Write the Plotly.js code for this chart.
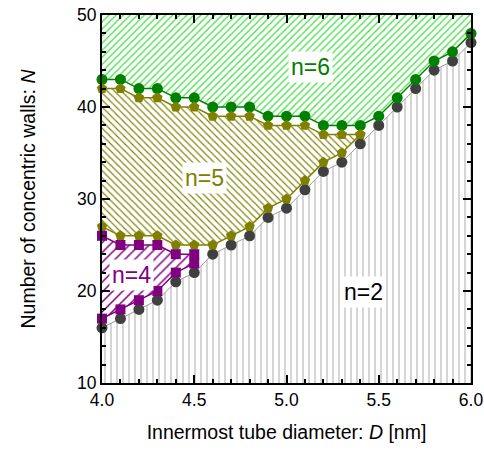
<!DOCTYPE html>
<html>
<head>
<meta charset="utf-8">
<script src="https://cdn.plot.ly/plotly-3.0.1.min.js"></script>
<style>html,body{margin:0;padding:0;background:#fff;}#chart{width:484px;height:450px;}</style>
</head>
<body>
<div id="chart"></div>
<script>
// Innermost tube diameter D [nm]
const D = [4.0,4.1,4.2,4.3,4.4,4.5,4.6,4.7,4.8,4.9,5.0,5.1,5.2,5.3,5.4,5.5,5.6,5.7,5.8,5.9,6.0];
// n=2 boundary (gray)
const nGray = [16,17,18,19,21,22,24,25,26,28,29,31,33,34,36,38,40,42,44,45,47];
// n=6 lower boundary (green)
const nGreen = [43,43,42,42,41,41,40,40,40,39,39,39,38,38,38,39,41,43,45,46,48];
// n=5 region (olive)
const D5 = [4.0,4.1,4.2,4.3,4.4,4.5,4.6,4.7,4.8,4.9,5.0,5.1,5.2,5.3,5.4];
const n5Top = [42,42,41,41,40,40,39,39,39,38,38,38,37,37,37];
const n5Bot = [27,26,26,26,25,25,25,26,27,29,30,32,34,35,37];
// n=4 region (purple)
const D4 = [4.0,4.1,4.2,4.3,4.4,4.5];
const n4Top = [26,25,25,25,24,24];
const n4Bot = [17,18,19,20,22,23];
// region labels
const labelText = ['n=6','n=5','n=4','n=2'];
const labelX = [5.13,4.555,4.16,5.415];
const labelY = [44.3,32.3,21.7,19.9];
const labelColor = ['#008000','#808000','#800080','#000000'];

const xRange = [4.0, 6.0];
const yRange = [10, 50];

const font = "Arial, 'Liberation Sans', Helvetica, sans-serif";

function poly(xa, ya, xb, yb) {
  return {x: xa.concat(xb.slice().reverse()), y: ya.concat(yb.slice().reverse())};
}

const greenPoly = poly(D, nGreen, D, D.map(() => yRange[1]));
const olivePoly = poly(D5, n5Top, D5, n5Bot);
const purplePoly = poly(D4, n4Top, D4, n4Bot);

const traces = [
  {x: D, y: nGray, type: 'scatter', mode: 'lines', line: {width: 0, color: 'rgba(0,0,0,0)'},
   fill: 'tozeroy', fillcolor: 'white',
   fillpattern: {shape: '|', fgcolor: '#c8c8c8', bgcolor: 'white', size: 6, solidity: 0.25},
   hoverinfo: 'skip', showlegend: false},
  {x: greenPoly.x, y: greenPoly.y, type: 'scatter', mode: 'lines', line: {width: 0, color: 'rgba(0,0,0,0)'},
   fill: 'toself', fillcolor: 'white',
   fillpattern: {shape: '/', fgcolor: '#33e033', bgcolor: 'white', size: 5, solidity: 0.22},
   hoverinfo: 'skip', showlegend: false},
  {x: olivePoly.x, y: olivePoly.y, type: 'scatter', mode: 'lines', line: {width: 0, color: 'rgba(0,0,0,0)'},
   fill: 'toself', fillcolor: 'white',
   fillpattern: {shape: '\\', fgcolor: '#808000', bgcolor: 'white', size: 5, solidity: 0.22},
   hoverinfo: 'skip', showlegend: false},
  {x: purplePoly.x, y: purplePoly.y, type: 'scatter', mode: 'lines', line: {width: 0, color: 'rgba(0,0,0,0)'},
   fill: 'toself', fillcolor: 'white',
   fillpattern: {shape: '/', fgcolor: '#800080', bgcolor: 'white', size: 7, solidity: 0.22},
   hoverinfo: 'skip', showlegend: false},
  {x: D, y: nGray, type: 'scatter', mode: 'lines+markers', cliponaxis: false,
   line: {color: '#9a9a9a', width: 1}, marker: {symbol: 'circle', size: 11, color: '#404040'}, showlegend: false},
  {x: D, y: nGreen, type: 'scatter', mode: 'lines+markers', cliponaxis: false,
   line: {color: '#008000', width: 1.5}, marker: {symbol: 'circle', size: 11, color: '#008000'}, showlegend: false},
  {x: D5, y: n5Top, type: 'scatter', mode: 'lines+markers', cliponaxis: false,
   line: {color: '#808000', width: 1.5}, marker: {symbol: 'pentagon', size: 11, color: '#808000'}, showlegend: false},
  {x: D5, y: n5Bot, type: 'scatter', mode: 'lines+markers', cliponaxis: false,
   line: {color: '#808000', width: 1.5}, marker: {symbol: 'pentagon', size: 11, color: '#808000'}, showlegend: false},
  {x: D4, y: n4Top, type: 'scatter', mode: 'lines+markers', cliponaxis: false,
   line: {color: '#800080', width: 1.5}, marker: {symbol: 'square', size: 10, color: '#800080'}, showlegend: false},
  {x: D4, y: n4Bot, type: 'scatter', mode: 'lines+markers', cliponaxis: false,
   line: {color: '#800080', width: 1.5}, marker: {symbol: 'square', size: 10, color: '#800080'}, showlegend: false}
];

const annotations = labelText.map((t, i) => ({
  x: labelX[i], y: labelY[i], xref: 'x', yref: 'y', text: t, showarrow: false,
  font: {family: font, size: 23, color: labelColor[i]}, bgcolor: 'white', borderpad: 2
}));

const axisCommon = {
  showline: true, linewidth: 2, linecolor: 'black', mirror: 'ticks',
  ticks: 'inside', ticklen: 8, tickwidth: 2, tickcolor: 'black',
  showgrid: false, zeroline: false, fixedrange: true,
  ticklabeloverflow: 'allow',
  tickfont: {family: font, size: 17.5, color: 'black'}
};

const layout = {
  width: 484, height: 450,
  margin: {l: 102, r: 13, t: 15, b: 67},
  paper_bgcolor: 'white', plot_bgcolor: 'white',
  showlegend: false,
  xaxis: Object.assign({}, axisCommon, {
    range: xRange, tickmode: 'linear', tick0: 4.0, dtick: 0.5, tickformat: '.1f',
    minor: {dtick: 0.1, ticks: 'inside', ticklen: 4, tickwidth: 2, tickcolor: 'black', showgrid: false},
    title: {text: 'Innermost tube diameter: <i>D</i> [nm]', font: {family: font, size: 19.5, color: 'black'}, standoff: 16}
  }),
  yaxis: Object.assign({}, axisCommon, {
    range: yRange, tickmode: 'linear', tick0: 10, dtick: 10,
    minor: {dtick: 2, ticks: 'inside', ticklen: 4, tickwidth: 2, tickcolor: 'black', showgrid: false},
    title: {text: 'Number of concentric walls: <i>N</i>', font: {family: font, size: 19.5, color: 'black'}, standoff: 36}
  }),
  annotations: annotations
};

Plotly.newPlot('chart', traces, layout, {displayModeBar: false, staticPlot: true});
</script>
</body>
</html>
